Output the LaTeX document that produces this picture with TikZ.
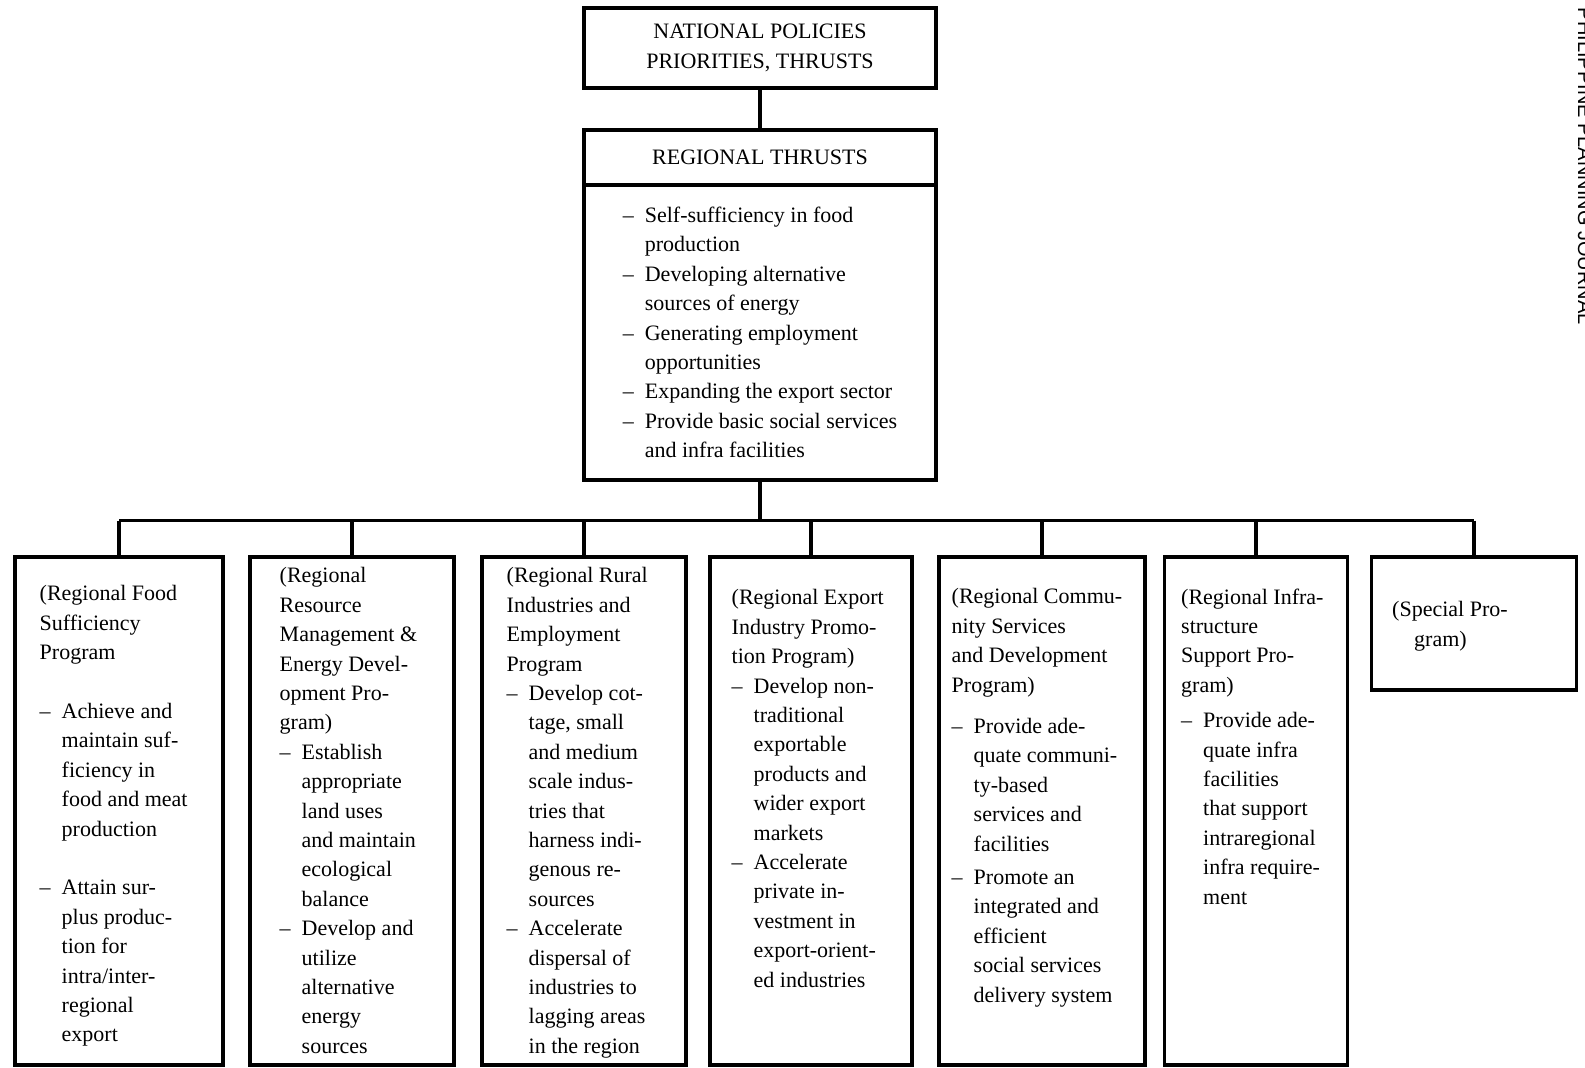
\documentclass[tikz,border=0pt]{standalone}
\usepackage{fontspec}
\setmainfont{Liberation Serif}
\newfontfamily\entete{Liberation Sans}
\usetikzlibrary{positioning}
\newcommand{\thdash}{\makebox[11pt][l]{--}}
\newcommand{\thind}{\hspace*{11pt}}

\begin{document}
\begin{tikzpicture}[x=0.5pt,y=-0.5pt]
  \tikzstyle{boite}=[draw,line width=1.7pt,inner sep=0pt,font=\fontsize{11}{14.7}\selectfont]
  \tikzstyle{txt}=[align=left,inner sep=0pt,font=\fontsize{11}{14.7}\selectfont]
  \tikzstyle{lien}=[line width=1.6pt]
  \useasboundingbox (0,0) rectangle (1585,1068);
  % Niveau national
  \node[boite,minimum width=176pt,minimum height=40pt,align=center] (nat) at (760,48)
    {NATIONAL POLICIES\\PRIORITIES, THRUSTS};
  % Axes regionaux (titre + liste)
  \node[boite,minimum width=176pt,minimum height=27.5pt] (thr) at (760,157.5) {REGIONAL THRUSTS};
  \node[boite,below=-1.7pt of thr,minimum width=176pt,minimum height=147.5pt,align=left] (thrbody)
    {\thdash Self-sufficiency in food\\
     \thind production\\
     \thdash Developing alternative\\
     \thind sources of energy\\
     \thdash Generating employment\\
     \thind opportunities\\
     \thdash Expanding the export sector\\
     \thdash Provide basic social services\\
     \thind and infra facilities};
  \draw[lien] (nat) -- (thr);
  % Programmes
  \node[boite,minimum width=104pt,minimum height=254pt] (p1) at (119,811) {};
  \node[boite,minimum width=102pt,minimum height=254pt] (p2) at (352,811) {};
  \node[boite,minimum width=102pt,minimum height=254pt] (p3) at (584,811) {};
  \node[boite,minimum width=101pt,minimum height=254pt] (p4) at (811,811) {};
  \node[boite,minimum width=103pt,minimum height=254pt] (p5) at (1042,811) {};
  \node[boite,minimum width=91.5pt,minimum height=254pt] (p6) at (1256,811) {};
  \node[boite,minimum width=102.5pt,minimum height=66.5pt] (p7) at (1474,623.5) {};
  % Liaisons
  \draw[lien] (thrbody.south) -- ++(0,39) coordinate (j);
  \draw[lien] (p1.north |- j) -- (p7.north |- j);
  \foreach \i in {1,...,7} \draw[lien] (p\i.north |- j) -- (p\i.north);
  % Textes des programmes
  \node[txt,below right=15pt and 13pt of p1.north west] (t1)
    {(Regional Food\\
     Sufficiency\\
     Program\\[14.7pt]
     \thdash Achieve and\\
     \thind maintain suf-\\
     \thind ficiency in\\
     \thind food and meat\\
     \thind production\\[14.7pt]
     \thdash Attain sur-\\
     \thind plus produc-\\
     \thind tion for\\
     \thind intra/inter-\\
     \thind regional\\
     \thind export};
  \node[txt,below right=6pt and 15.5pt of p2.north west] (t2)
    {(Regional\\
     Resource\\
     Management \&\\
     Energy Devel-\\
     opment Pro-\\
     gram)\\
     \thdash Establish\\
     \thind appropriate\\
     \thind land uses\\
     \thind and maintain\\
     \thind ecological\\
     \thind balance\\
     \thdash Develop and\\
     \thind utilize\\
     \thind alternative\\
     \thind energy\\
     \thind sources};
  \node[txt,below right=6pt and 13pt of p3.north west] (t3)
    {(Regional Rural\\
     Industries and\\
     Employment\\
     Program\\
     \thdash Develop cot-\\
     \thind tage, small\\
     \thind and medium\\
     \thind scale indus-\\
     \thind tries that\\
     \thind harness indi-\\
     \thind genous re-\\
     \thind sources\\
     \thdash Accelerate\\
     \thind dispersal of\\
     \thind industries to\\
     \thind lagging areas\\
     \thind in the region};
  \node[txt,below right=17pt and 11.5pt of p4.north west] (t4)
    {(Regional Export\\
     Industry Promo-\\
     tion Program)\\
     \thdash Develop non-\\
     \thind traditional\\
     \thind exportable\\
     \thind products and\\
     \thind wider export\\
     \thind markets\\
     \thdash Accelerate\\
     \thind private in-\\
     \thind vestment in\\
     \thind export-orient-\\
     \thind ed industries};
  \node[txt,below right=16.5pt and 7pt of p5.north west] (t5)
    {(Regional Commu-\\
     nity Services\\
     and Development\\
     Program)\\[6pt]
     \thdash Provide ade-\\
     \thind quate communi-\\
     \thind ty-based\\
     \thind services and\\
     \thind facilities\\[2pt]
     \thdash Promote an\\
     \thind integrated and\\
     \thind efficient\\
     \thind social services\\
     \thind delivery system};
  \node[txt,below right=16.5pt and 9pt of p6.north west] (t6)
    {(Regional Infra-\\
     structure\\
     Support Pro-\\
     gram)\\[3pt]
     \thdash Provide ade-\\
     \thind quate infra\\
     \thind facilities\\
     \thind that support\\
     \thind intraregional\\
     \thind infra require-\\
     \thind ment};
  \node[txt,below right=23pt and 11pt of p7.north west] (t7)
    {(Special Pro-\\
     \thind gram)};
  % En-tete de page (coupe)
  \node[rotate=-90,anchor=base east,inner sep=0pt,font=\entete\fontsize{10}{12}\selectfont] (revue)
    at (1578,325) {PHILIPPINE PLANNING JOURNAL};
\end{tikzpicture}
\end{document}
